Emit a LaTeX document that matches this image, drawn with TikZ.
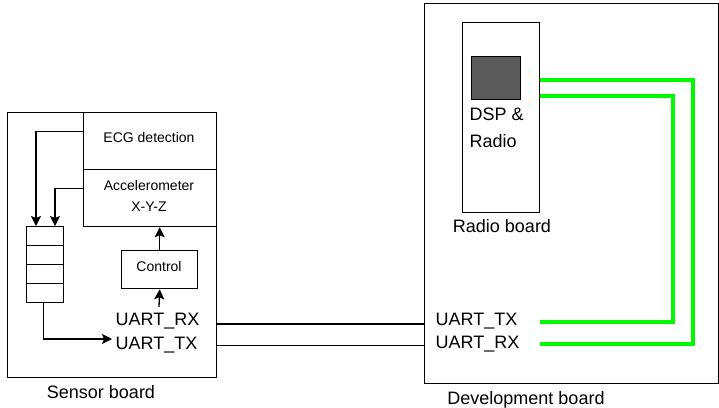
\documentclass[tikz,border=0pt]{standalone}
\usepackage{fontspec}
\setmainfont{Liberation Sans}
\usetikzlibrary{arrows.meta,calc}
\definecolor{wiregreen}{RGB}{0,250,0}
\definecolor{chipgray}{RGB}{90,90,90}
\begin{document}
\begin{tikzpicture}[x=1pt,y=-1pt,
  line width=1.3pt,
  box/.style={draw, rectangle, inner sep=0pt, anchor=north west},
  big/.style={font=\fontsize{18}{18}\selectfont, inner sep=0pt},
  small/.style={font=\fontsize{14}{14}\selectfont, inner sep=0pt},
  arr/.style={-{Stealth[length=10pt,width=10pt,inset=2pt]}},
  wire/.style={draw=wiregreen, line width=4pt}
]
\useasboundingbox (0,0) rectangle (719,407);

% Sensor board and its blocks
\node[box, minimum width=209pt, minimum height=265pt] (sensor) at (7,112) {};
\node[box, minimum width=133pt, minimum height=57pt] (ecg) at (83,112) {};
\node[box, minimum width=133pt, minimum height=57pt] (acc) at (83,169) {};
\node[box, minimum width=76pt, minimum height=38pt] (ctrl) at (121,250) {};
\node[box, minimum width=37pt, minimum height=19pt] (q1) at (26,226) {};
\node[box, minimum width=37pt, minimum height=19pt] (q2) at (26,245) {};
\node[box, minimum width=37pt, minimum height=19pt] (q3) at (26,264) {};
\node[box, minimum width=37pt, minimum height=19pt] (q4) at (26,283) {};

\node[small, anchor=base] (ecgtxt) at (149,142) {ECG detection};
\node[small, anchor=base] (acctxt) at (149,190) {Accelerometer};
\node[small, anchor=base] (xyztxt) at (149,211) {X-Y-Z};
\node[small, anchor=base] (ctrltxt) at (159,271) {Control};
\node[big, anchor=base west] (srx) at (115,325) {UART\_RX};
\node[big, anchor=base west] (stx) at (115,349) {UART\_TX};
\node[big, anchor=base] (sensorlbl) at (101,398) {Sensor board};

% Development board and radio board
\node[box, minimum width=294pt, minimum height=380pt] (dev) at (424,3) {};
\node[box, minimum width=77pt, minimum height=190pt] (radio) at (462,22) {};
\node[box, fill=chipgray, minimum width=49pt, minimum height=43pt] (chip) at (471,56) {};
\node[big, anchor=base west] (dsptxt) at (469,120) {DSP \&};
\node[big, anchor=base west] (radiotxt) at (469,147) {Radio};
\node[big, anchor=base] (radiolbl) at (502,232) {Radio board};
\node[big, anchor=base west] (dtx) at (435,325) {UART\_TX};
\node[big, anchor=base west] (drx) at (435,348) {UART\_RX};
\node[big, anchor=base] (devlbl) at (526,404) {Development board};

% Internal data paths of the sensor board
\coordinate (rxtap) at (159,307);
\coordinate (txtap) at (112,339);
\draw[arr] ([yshift=9.5pt]ecg.west) -| ([xshift=10pt]q1.north west);
\draw[arr] ([yshift=9.5pt]acc.west) -| ([xshift=29pt]q1.north west);
\draw[arr] (ctrl.north) -- (ctrl.north |- acc.south);
\draw[arr] (rxtap) -- (ctrl.south);
\draw[arr] ([xshift=-1.5pt]q4.south) |- (txtap);

% UART link between the boards
\draw ($(sensor.east |- srx.base)+(0,-1)$) -- ($(dev.west |- srx.base)+(0,-1)$);
\draw ($(sensor.east |- stx.base)+(0,-3.5)$) -- ($(dev.west |- stx.base)+(0,-3.5)$);

% Wiring from the UART pins to the radio board
\draw[wire] ([yshift=38pt]radio.east) -- ++(153,0) |- ($(radio.east |- drx.base)+(0,-4)$);
\draw[wire] ([yshift=22pt]radio.east) -- ++(133,0) |- ($(radio.east |- dtx.base)+(0,-3)$);
\end{tikzpicture}
\end{document}
